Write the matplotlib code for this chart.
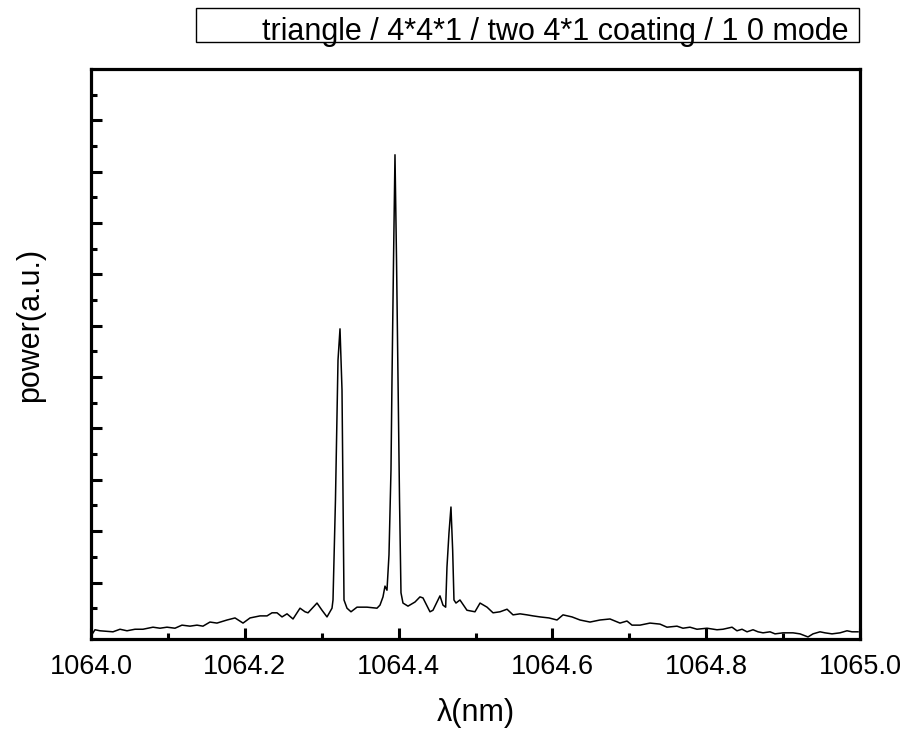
import matplotlib
matplotlib.use("Agg")
import matplotlib.pyplot as plt
from matplotlib.ticker import FixedLocator, FormatStrFormatter
from matplotlib.patches import Rectangle

plt.rcParams['font.family'] = ['Liberation Sans', 'DejaVu Sans']

# Measured emission spectrum (wavelength in nm, power in arbitrary units)
wavelength = [
    1064.0000, 1064.0052, 1064.0117, 1064.0286, 1064.0377, 1064.0468, 1064.0572,
    1064.0676, 1064.0806, 1064.0897, 1064.0988, 1064.1092, 1064.1183, 1064.1287,
    1064.1378, 1064.1456, 1064.1547, 1064.1638, 1064.1769, 1064.1873, 1064.1977,
    1064.2068, 1064.2198, 1064.2289, 1064.2354, 1064.2419, 1064.2484, 1064.2549,
    1064.2627, 1064.2718, 1064.2783, 1064.2822, 1064.2939, 1064.3004, 1064.3069,
    1064.3134, 1064.3147, 1064.3179, 1064.3212, 1064.3238, 1064.3264, 1064.3277,
    1064.3290, 1064.3329, 1064.3381, 1064.3459, 1064.3589, 1064.3719, 1064.3758,
    1064.3797, 1064.3823, 1064.3849, 1064.3875, 1064.3901, 1064.3914, 1064.3934,
    1064.3953, 1064.3973, 1064.3992, 1064.4012, 1064.4031, 1064.4057, 1064.4122,
    1064.4213, 1064.4278, 1064.4317, 1064.4408, 1064.4447, 1064.4538, 1064.4577,
    1064.4612, 1064.4629, 1064.4655, 1064.4681, 1064.4703, 1064.4720, 1064.4746,
    1064.4798, 1064.4889, 1064.4993, 1064.5059, 1064.5150, 1064.5228, 1064.5319,
    1064.5410, 1064.5488, 1064.5579, 1064.5670, 1064.5748, 1064.5839, 1064.5956,
    1064.6060, 1064.6138, 1064.6255, 1064.6359, 1064.6489, 1064.6619, 1064.6749,
    1064.6879, 1064.6970, 1064.7035, 1064.7139, 1064.7269, 1064.7399, 1064.7490,
    1064.7620, 1064.7698, 1064.7789, 1064.7880, 1064.8010, 1064.8140, 1064.8218,
    1064.8336, 1064.8400, 1064.8466, 1064.8531, 1064.8609, 1064.8674, 1064.8739,
    1064.8830, 1064.8895, 1064.8999, 1064.9129, 1064.9220, 1064.9324, 1064.9389,
    1064.9480, 1064.9545, 1064.9636, 1064.9740, 1064.9831, 1064.9896, 1064.9974,
]
power = [
    -0.04, 0.08, 0.06, 0.04, 0.09, 0.06, 0.09,
    0.09, 0.13, 0.11, 0.13, 0.11, 0.17, 0.15,
    0.17, 0.15, 0.23, 0.21, 0.27, 0.31, 0.21,
    0.31, 0.35, 0.35, 0.41, 0.41, 0.33, 0.39,
    0.29, 0.50, 0.43, 0.41, 0.60, 0.46, 0.33,
    0.50, 0.66, 2.61, 5.33, 5.94, 4.75, 2.61,
    0.66, 0.50, 0.43, 0.52, 0.52, 0.50, 0.56,
    0.72, 0.93, 0.85, 1.54, 3.19, 4.94, 7.28,
    9.33, 7.28, 4.94, 2.61, 0.80, 0.60, 0.54,
    0.62, 0.72, 0.70, 0.43, 0.46, 0.74, 0.56,
    0.52, 1.30, 1.96, 2.47, 1.63, 0.66, 0.60,
    0.66, 0.46, 0.43, 0.60, 0.52, 0.41, 0.43,
    0.48, 0.37, 0.39, 0.37, 0.35, 0.33, 0.31,
    0.27, 0.37, 0.33, 0.27, 0.23, 0.27, 0.29,
    0.21, 0.25, 0.17, 0.17, 0.21, 0.19, 0.13,
    0.15, 0.11, 0.13, 0.09, 0.11, 0.08, 0.09,
    0.13, 0.06, 0.09, 0.04, 0.08, 0.04, 0.02,
    0.04, -0.00, 0.02, 0.02, -0.00, -0.06, -0.00,
    0.04, 0.02, -0.00, 0.02, 0.06, 0.04, 0.04,
]

x_major = [1064.0, 1064.2, 1064.4, 1064.6, 1064.8, 1065.0]
x_minor = [1064.1, 1064.3, 1064.5, 1064.7, 1064.9]
y_major = [1, 2, 3, 4, 5, 6, 7, 8, 9, 10]
y_minor = [0.5, 1.5, 2.5, 3.5, 4.5, 5.5, 6.5, 7.5, 8.5, 9.5, 10.5]

legend_text = "triangle / 4*4*1 / two 4*1 coating / 1 0 mode"

W, H = 910, 734
fig = plt.figure(figsize=(W / 100, H / 100), dpi=100)
ax = fig.add_axes([91 / W, 1 - 639 / H, (860 - 91) / W, (639 - 69) / H])

ax.plot(wavelength, power, color='black', lw=1.1)

ax.set_xlim(1064.0, 1065.0)
ax.set_ylim(-0.1, 11.0)

ax.xaxis.set_major_locator(FixedLocator(x_major))
ax.xaxis.set_minor_locator(FixedLocator(x_minor))
ax.xaxis.set_major_formatter(FormatStrFormatter('%.1f'))
ax.yaxis.set_major_locator(FixedLocator(y_major))
ax.yaxis.set_minor_locator(FixedLocator(y_minor))

for s in ax.spines.values():
    s.set_linewidth(2.3)

ax.tick_params(which='both', direction='in', top=False, right=False,
               labelleft=False, width=2.2)
ax.tick_params(which='major', length=8)
ax.tick_params(which='minor', length=4.5)
ax.tick_params(axis='x', which='major', labelsize=19.5, pad=11)

ax.set_xlabel('λ(nm)', fontsize=22, labelpad=13)
fig.text(30 / W, 1 - 325 / H, 'power(a.u.)', rotation=90, fontsize=22,
         ha='center', va='center')

# Legend frame with its caption
fig.patches.append(Rectangle((196 / W, 1 - 42 / H), (859 - 196) / W, 34 / H,
                             transform=fig.transFigure, fill=False,
                             edgecolor='black', lw=1.0))
fig.text(848 / W, 1 - 40 / H, legend_text, fontsize=22, ha='right',
         va='baseline')

fig.savefig('out.png', dpi=100)
